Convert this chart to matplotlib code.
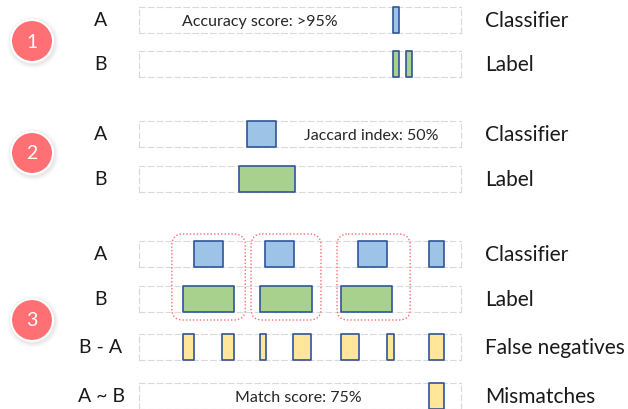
import matplotlib
matplotlib.use("Agg")
import matplotlib.pyplot as plt
from matplotlib.patches import Circle, FancyBboxPatch

plt.rcParams['font.family'] = ['Lato', 'DejaVu Sans']

# segments on a 0-100 timeline, as (start, end)
acc_classifier = [(78.9, 80.7)]
acc_label = [(78.9, 80.7), (82.9, 84.8)]
jac_classifier = [(33.5, 42.5)]
jac_label = [(31.1, 48.4)]
ex_classifier = [(17.1, 26.1), (39.1, 48.1), (68.0, 77.0), (90.1, 94.7)]
ex_label = [(13.7, 29.5), (37.6, 53.7), (62.7, 78.6)]
ex_false_neg = [(13.7, 17.1), (25.8, 29.5), (37.6, 39.4), (47.8, 53.4),
                (62.7, 68.3), (77.0, 79.2), (90.1, 94.7)]
ex_mismatch = [(90.1, 94.7)]
groups = [(10.2, 33.0), (34.8, 56.5), (61.5, 84.2)]

blue = '#9DC3E6'
green = '#A9D18E'
yellow = '#FFE699'
edge = '#2F5597'
track_col = '#D9D9D9'
circle_col = '#FF7074'

W, H = 628, 410
fig = plt.figure(figsize=(W / 100, H / 100), dpi=100)

# overlay in pixel units for circles / labels
ov = fig.add_axes([0, 0, 1, 1], zorder=5)
ov.set_xlim(0, W)
ov.set_ylim(H, 0)
ov.axis('off')
ov.patch.set_alpha(0)

track_x, track_w, track_h = 139, 322, 26


def track(top, segs, color, left, right, note=None, note_x=50):
    ax = fig.add_axes([track_x / W, 1 - (top + track_h) / H, track_w / W, track_h / H])
    ax.set_xlim(0, 100)
    ax.set_ylim(0, 1)
    ax.set_xticks([])
    ax.set_yticks([])
    for s in ax.spines.values():
        s.set_color(track_col)
        s.set_linewidth(0.8)
        s.set_linestyle((0, (5, 3)))
    ax.broken_barh([(a, b - a) for a, b in segs], (0, 1), facecolors=color,
                   edgecolors=edge, linewidth=1.2, clip_on=False, zorder=3)
    if note:
        ax.text(note_x, 0.45, note, ha='center', va='center', fontsize=11.5, color='#262626')
    cy = top + track_h / 2
    ov.text(101, cy, left, ha='center', va='center', fontsize=14, color='#1a1a1a')
    ov.text(485, cy, right, ha='left', va='center', fontsize=15, color='#1a1a1a')
    return ax


track(8, acc_classifier, blue, 'A', 'Classifier', 'Accuracy score: >95%', 37.5)
track(52, acc_label, green, 'B', 'Label')
track(122, jac_classifier, blue, 'A', 'Classifier', 'Jaccard index: 50%', 72)
track(167, jac_label, green, 'B', 'Label')
ax_a = track(242, ex_classifier, blue, 'A', 'Classifier')
track(287, ex_label, green, 'B', 'Label')
track(335, ex_false_neg, yellow, 'B - A', 'False negatives')
track(384, ex_mismatch, yellow, 'A ~ B', 'Mismatches', 'Match score: 75%', 49.4)

# dotted rounded boxes around matching groups
fig.canvas.draw()
for g0, g1 in groups:
    x0 = ax_a.transData.transform((g0, 0))[0]
    x1 = ax_a.transData.transform((g1, 0))[0]
    box = FancyBboxPatch((x0, 235), x1 - x0, 86, boxstyle='round,pad=0,rounding_size=11',
                         fill=False, edgecolor='#FF6B70', linestyle=(0, (1, 1.5)),
                         linewidth=1.0)
    ov.add_patch(box)

# numbered circles
for num, cy in [('1', 42), ('2', 154), ('3', 321)]:
    for r, a in [(26, 0.04), (24.5, 0.06), (23, 0.08)]:
        ov.add_patch(Circle((33, cy + 1.5), r, color='#808080', alpha=a, lw=0))
    ov.add_patch(Circle((32, cy), 21, facecolor=circle_col, edgecolor='white', linewidth=1.5))
    ov.text(32, cy, num, ha='center', va='center', fontsize=14, color='white')

fig.savefig('out.png', dpi=100)
